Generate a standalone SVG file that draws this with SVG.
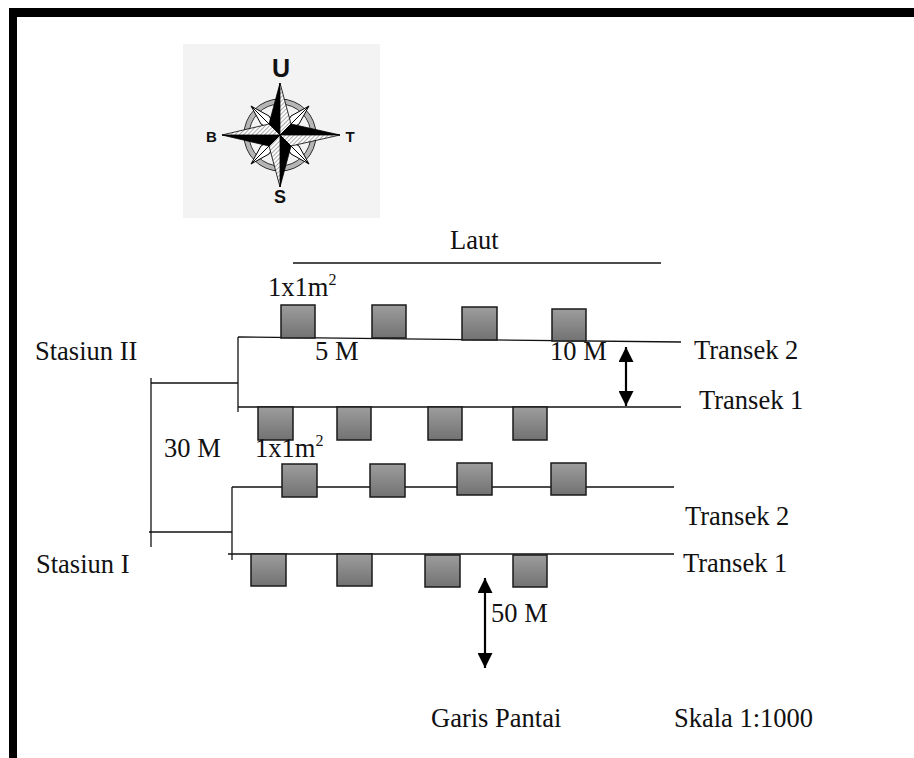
<svg xmlns="http://www.w3.org/2000/svg" width="914" height="758" viewBox="0 0 914 758">
  <defs>
    <linearGradient id="quadFill" x1="0" y1="0" x2="0" y2="1">
      <stop offset="0" stop-color="#9d9d9d"/>
      <stop offset="1" stop-color="#727272"/>
    </linearGradient>
    <pattern id="hatch" width="3" height="3" patternUnits="userSpaceOnUse" patternTransform="rotate(45)">
      <rect width="3" height="3" fill="#ffffff"/>
      <line x1="0" y1="0" x2="0" y2="3" stroke="#444" stroke-width="0.9"/>
    </pattern>
    <marker id="head" viewBox="0 0 16 16" refX="16" refY="8" markerWidth="17" markerHeight="15" markerUnits="userSpaceOnUse" orient="auto-start-reverse">
      <path d="M0,0 L16,8 L0,16 z" fill="#000"/>
    </marker>
    <style>
      .lbl { font-family: "Liberation Serif", "Times New Roman", serif; font-size: 26.5px; fill: #111; }
      .dir { font-family: "Liberation Sans", Arial, sans-serif; font-weight: bold; fill: #111; text-anchor: middle; }
      .ln { stroke: #111; stroke-width: 1.3; fill: none; }
      .quad { fill: url(#quadFill); stroke: #1a1a1a; stroke-width: 1.5; }
      .arrow { stroke: #000; stroke-width: 2.2; marker-start: url(#head); marker-end: url(#head); }
      .dark { fill: #000; stroke: #000; stroke-width: 0.8; }
      .light { fill: url(#hatch); stroke: #000; stroke-width: 0.8; }
    </style>
  </defs>

  <rect width="914" height="758" fill="#ffffff"/>

  <!-- page frame: top band and left bar -->
  <g id="frame" fill="#000">
    <rect x="9" y="8" width="905" height="9"/>
    <rect x="9" y="8" width="8" height="750"/>
  </g>

  <!-- compass rose -->
  <g id="compass">
    <rect x="183" y="44" width="197" height="174" fill="#f3f3f3"/>
    <circle cx="280" cy="135" r="33.5" fill="none" stroke="#b5b5b5" stroke-width="4"/>
    <circle cx="280" cy="135" r="36" fill="none" stroke="#222" stroke-width="1"/>
    <circle cx="280" cy="135" r="31" fill="none" stroke="#222" stroke-width="1"/>
    <!-- diagonal points -->
    <g fill="#fff" stroke="#000" stroke-width="1">
      <polygon points="280,135 291,116 309,106 299,124"/>
      <polygon points="280,135 269,116 251,106 261,124"/>
      <polygon points="280,135 291,154 309,164 299,146"/>
      <polygon points="280,135 269,154 251,164 261,146"/>
      <line x1="280" y1="135" x2="309" y2="106"/>
      <line x1="280" y1="135" x2="251" y2="106"/>
      <line x1="280" y1="135" x2="309" y2="164"/>
      <line x1="280" y1="135" x2="251" y2="164"/>
    </g>
    <!-- cardinal points -->
    <polygon class="dark" points="280,83 269,124 280,135"/>
    <polygon class="light" points="280,83 291,124 280,135"/>
    <polygon class="dark" points="340,135 291,124 280,135"/>
    <polygon class="light" points="340,135 291,146 280,135"/>
    <polygon class="dark" points="280,187 291,146 280,135"/>
    <polygon class="light" points="280,187 269,146 280,135"/>
    <polygon class="dark" points="222,135 269,146 280,135"/>
    <polygon class="light" points="222,135 269,124 280,135"/>
    <text class="dir" x="281" y="77" font-size="25">U</text>
    <text class="dir" x="211.5" y="142" font-size="15">B</text>
    <text class="dir" x="350" y="142" font-size="15">T</text>
    <text class="dir" x="280" y="203" font-size="18">S</text>
  </g>

  <!-- sea label -->
  <g id="laut">
    <text class="lbl" x="450" y="249">Laut</text>
    <line class="ln" x1="293" y1="263" x2="661" y2="263"/>
  </g>

  <!-- Stasiun II -->
  <g id="stasiun-2">
    <text class="lbl" x="35" y="360">Stasiun II</text>
    <line class="ln" x1="238" y1="337" x2="681" y2="342"/>
    <line class="ln" x1="238" y1="407" x2="681" y2="407"/>
    <line class="ln" x1="238" y1="337" x2="238" y2="412"/>
    <g id="quadrat-s2-t2">
      <rect class="quad" x="281" y="305" width="34" height="33"/>
      <rect class="quad" x="372" y="305" width="34" height="33"/>
      <rect class="quad" x="462" y="307" width="35" height="33"/>
      <rect class="quad" x="552" y="309" width="34" height="32"/>
    </g>
    <g id="quadrat-s2-t1">
      <rect class="quad" x="258" y="407" width="35" height="33"/>
      <rect class="quad" x="337" y="407" width="34" height="33"/>
      <rect class="quad" x="428" y="407" width="34" height="33"/>
      <rect class="quad" x="513" y="407" width="34" height="33"/>
    </g>
    <text class="lbl" x="268" y="296">1x1m<tspan font-size="16" dy="-11">2</tspan></text>
    <text class="lbl" x="315" y="360">5 M</text>
    <text class="lbl" x="550" y="360">10 M</text>
    <text class="lbl" x="694" y="359">Transek 2</text>
    <text class="lbl" x="699" y="409">Transek 1</text>
  </g>

  <!-- Stasiun I -->
  <g id="stasiun-1">
    <text class="lbl" x="36" y="573">Stasiun I</text>
    <line class="ln" x1="232" y1="487" x2="674" y2="487"/>
    <line class="ln" x1="228" y1="554" x2="674" y2="554"/>
    <line class="ln" x1="232" y1="487" x2="232" y2="560"/>
    <g id="quadrat-s1-t2">
      <rect class="quad" x="282" y="464" width="35" height="33"/>
      <rect class="quad" x="370" y="464" width="35" height="33"/>
      <rect class="quad" x="457" y="463" width="35" height="32"/>
      <rect class="quad" x="551" y="463" width="35" height="32"/>
    </g>
    <g id="quadrat-s1-t1">
      <rect class="quad" x="251" y="554" width="35" height="32"/>
      <rect class="quad" x="337" y="554" width="35" height="32"/>
      <rect class="quad" x="425" y="555" width="35" height="32"/>
      <rect class="quad" x="513" y="555" width="34" height="32"/>
    </g>
    <text class="lbl" x="255" y="457">1x1m<tspan font-size="16" dy="-11">2</tspan></text>
    <text class="lbl" x="685" y="525">Transek 2</text>
    <text class="lbl" x="683" y="572">Transek 1</text>
  </g>

  <!-- station spacing and distance markers -->
  <g id="connectors">
    <line class="ln" x1="151" y1="378" x2="151" y2="547"/>
    <line class="ln" x1="151" y1="383" x2="238" y2="383"/>
    <line class="ln" x1="149" y1="532" x2="232" y2="532"/>
    <line class="arrow" x1="626" y1="347" x2="626" y2="406"/>
    <line class="arrow" x1="485" y1="578" x2="485" y2="668"/>
  </g>

  <g id="labels">
    <text class="lbl" x="164" y="457">30 M</text>
    <text class="lbl" x="491" y="622">50 M</text>
    <text class="lbl" x="431" y="727">Garis Pantai</text>
    <text class="lbl" x="674" y="727">Skala 1:1000</text>
  </g>
</svg>
